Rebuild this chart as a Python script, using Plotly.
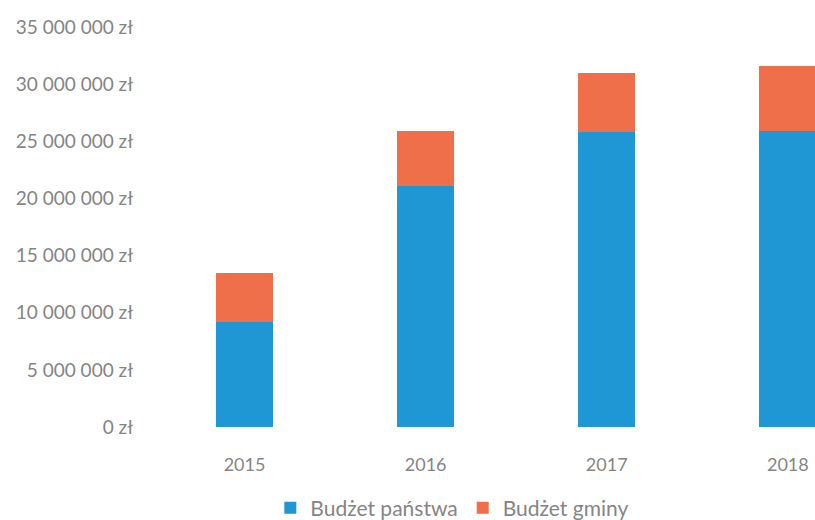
import plotly.graph_objects as go

years = ["2015", "2016", "2017", "2018"]
budzet_panstwa = [9.2e6, 21.1e6, 25.8e6, 25.9e6]
budzet_gminy = [4.3e6, 4.8e6, 5.2e6, 5.7e6]
tick_vals = [0, 5e6, 10e6, 15e6, 20e6, 25e6, 30e6, 35e6]
tick_text = ["0 zł", "5 000 000 zł", "10 000 000 zł", "15 000 000 zł",
             "20 000 000 zł", "25 000 000 zł", "30 000 000 zł", "35 000 000 zł"]

BLUE = "#1F97D4"
ORANGE = "#EE6F4A"
GREY = "#858585"
FONT = "Lato"

fig = go.Figure()
fig.add_trace(go.Bar(x=years, y=budzet_panstwa, name="Budżet państwa",
                     marker=dict(color=BLUE, line=dict(width=0))))
fig.add_trace(go.Bar(x=years, y=budzet_gminy, name="Budżet gminy",
                     marker=dict(color=ORANGE, line=dict(width=0))))

fig.update_layout(
    width=815, height=520,
    barmode="stack", bargap=0.685,
    plot_bgcolor="white", paper_bgcolor="white",
    margin=dict(l=154, r=0, t=27, b=93, autoexpand=False),
    font=dict(family=FONT, size=18, color=GREY),
    xaxis=dict(type="category", range=[-0.5, 3.15], showgrid=False,
               showline=False, zeroline=False, ticks="",
               ticklabelstandoff=25, tickfont=dict(size=18, color=GREY)),
    yaxis=dict(range=[0, 35e6], tickvals=tick_vals, ticktext=tick_text,
               showgrid=False, showline=False, zeroline=False, ticks="",
               ticklabelstandoff=20, tickfont=dict(size=19, color=GREY)),
    legend=dict(orientation="h", xref="container", x=0.555, xanchor="center",
                yref="container", y=0.023, yanchor="middle",
                font=dict(size=21, color=GREY), traceorder="normal",
                itemwidth=30),
    showlegend=True,
)

fig.write_html(
    "out.html",
    config={"displayModeBar": False},
    post_script="document.body.style.margin='0';document.body.style.overflow='hidden';",
)
